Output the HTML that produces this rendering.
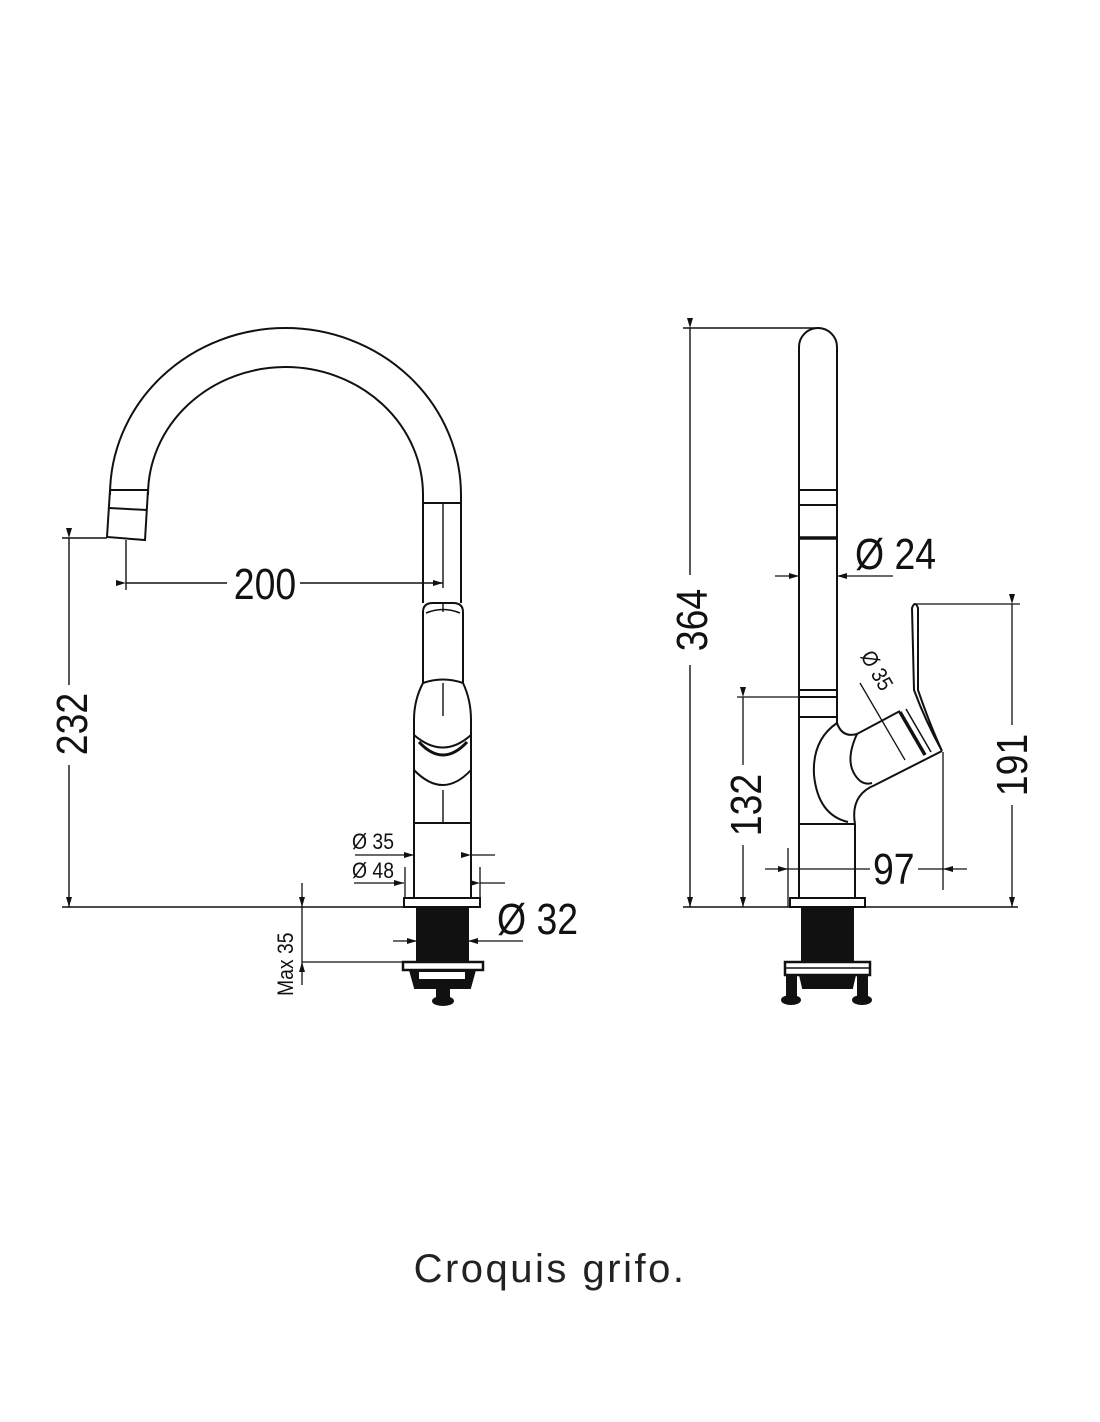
<!DOCTYPE html>
<html><head><meta charset="utf-8"><style>
html,body{margin:0;padding:0;background:#fff;}
svg{display:block;}
text{font-family:"Liberation Sans Narrow","Liberation Sans",sans-serif;fill:#111;}
</style></head><body>
<svg width="1100" height="1422" viewBox="0 0 1100 1422" xmlns="http://www.w3.org/2000/svg">
<defs>
<marker id="a" markerWidth="10" markerHeight="6" refX="10" refY="3" orient="auto" markerUnits="userSpaceOnUse"><path d="M0,0 L10,3 L0,6 z" fill="#111"/></marker>
</defs>
<g stroke="#111" stroke-width="2" fill="none">
<!-- LEFT FAUCET -->
<path d="M110,490 L110,495 A175.5,167 0 0 1 461,495 L461,503"/>
<path d="M148,490 L148,495 A137.5,128 0 0 1 423,495 L423,503"/>
<line x1="423" y1="503" x2="461" y2="503"/>
<line x1="423" y1="503" x2="423" y2="603"/>
<line x1="461" y1="503" x2="461" y2="603"/>
<line x1="443" y1="503" x2="443" y2="588" stroke-width="1.4"/>
<path d="M110,490 L107,537 L145,540 L148,490 Z"/>
<line x1="109" y1="508" x2="147" y2="510"/>
<path d="M423,683 L423,612 Q423,603 433,603 L453,603 Q463,603 463,612 L463,683"/>
<path d="M426,613 Q443,606 460,613" stroke-width="1.5"/>
<line x1="443" y1="604" x2="443" y2="612" stroke-width="1.4"/>
<path d="M414,898 L414,720 Q414,700 423,683 Q443,676 463,683 Q471,700 471,720 L471,898"/>
<path d="M414,735 Q443,760 471,735" stroke-width="2"/>
<path d="M419,742 Q443,768 467,742" stroke-width="3"/>
<path d="M414,770 Q443,800 471,770" stroke-width="2"/>
<line x1="443" y1="683" x2="443" y2="716" stroke-width="1.4"/>
<line x1="443" y1="790" x2="443" y2="823" stroke-width="1.4"/>
<line x1="414" y1="823" x2="471" y2="823"/>
<rect x="404" y="898" width="76" height="9"/>
<rect x="417" y="907" width="51" height="55" fill="#111"/>
<rect x="403" y="962" width="80" height="8" stroke-width="2.5"/>
<path d="M410,970 L475,970 L470,988 L415,988 Z" fill="#111"/>
<rect x="419" y="972" width="46" height="7" fill="#fff" stroke="none"/>
<rect x="437" y="988" width="12" height="12" fill="#111"/>
<ellipse cx="443" cy="1001" rx="10" ry="4" fill="#111"/>

<line x1="62" y1="538" x2="107" y2="538" stroke-width="1.4"/>
<line x1="69" y1="538" x2="69" y2="685" stroke-width="1.4" marker-start="url(#a)"/>
<line x1="69" y1="765" x2="69" y2="907" stroke-width="1.4" marker-end="url(#a)"/>
<line x1="62" y1="907" x2="404" y2="907" stroke-width="1.4"/>
<line x1="126" y1="540" x2="126" y2="590" stroke-width="1.4"/>
<line x1="126" y1="583" x2="227" y2="583" stroke-width="1.4" marker-start="url(#a)"/>
<line x1="300" y1="583" x2="443" y2="583" stroke-width="1.4" marker-end="url(#a)"/>
<line x1="355" y1="855" x2="414" y2="855" stroke-width="1.3" marker-end="url(#a)"/>
<line x1="471" y1="855" x2="495" y2="855" stroke-width="1.3" marker-start="url(#a)"/>
<line x1="354" y1="883" x2="404" y2="883" stroke-width="1.3" marker-end="url(#a)"/>
<line x1="480" y1="883" x2="505" y2="883" stroke-width="1.3" marker-start="url(#a)"/>
<line x1="405" y1="867" x2="405" y2="898" stroke-width="1.3"/>
<line x1="480" y1="867" x2="480" y2="898" stroke-width="1.3"/>
<line x1="393" y1="941" x2="417" y2="941" stroke-width="1.3" marker-end="url(#a)"/>
<line x1="523" y1="941" x2="468" y2="941" stroke-width="1.3" marker-end="url(#a)"/>
<line x1="302" y1="883" x2="302" y2="907" stroke-width="1.3" marker-end="url(#a)"/>
<line x1="302" y1="907" x2="302" y2="962" stroke-width="1.3"/>
<line x1="302" y1="985" x2="302" y2="962" stroke-width="1.3" marker-end="url(#a)"/>
<line x1="302" y1="962" x2="430" y2="962" stroke-width="1.3"/>

<!-- RIGHT FAUCET -->
<path d="M799,723 L799,347 A19,19 0 0 1 837,347 L837,723"/>
<line x1="799" y1="490" x2="837" y2="490"/>
<line x1="799" y1="505" x2="837" y2="505"/>
<line x1="799" y1="538" x2="837" y2="538" stroke-width="3.5"/>
<line x1="799" y1="690" x2="837" y2="690"/>
<line x1="799" y1="697" x2="837" y2="697"/>
<line x1="799" y1="717" x2="837" y2="717"/>
<line x1="799" y1="723" x2="799" y2="898"/>
<line x1="799" y1="824" x2="855" y2="824"/>
<line x1="855" y1="824" x2="855" y2="898"/>
<path d="M837,723 Q812,740 814,775 Q818,815 848,822"/>
<path d="M837,723 Q842,738 857,734 L900,711"/>
<path d="M857,734 Q845,760 855,775 Q862,786 872,783"/>
<path d="M855,824 Q850,795 875,785 L942,751"/>
<path d="M942,751 Q925,720 914,690 L912,608 Q915,600 918,608 L918,690 Q930,725 942,751"/>
<line x1="900" y1="712" x2="925" y2="755" stroke-width="3.5"/>
<line x1="906" y1="709" x2="931" y2="752" stroke-width="1.5"/>
<rect x="790" y="898" width="75" height="9"/>
<rect x="802" y="907" width="51" height="55" fill="#111"/>
<rect x="785" y="962" width="85" height="13" stroke-width="2.5"/>
<line x1="785" y1="968" x2="870" y2="968" stroke-width="1.5"/>
<path d="M800,975 L855,975 L852,988 L803,988 Z" fill="#111"/>
<rect x="787" y="975" width="9" height="24" fill="#111"/>
<rect x="858" y="975" width="9" height="24" fill="#111"/>
<ellipse cx="791" cy="1000" rx="9" ry="4" fill="#111"/>
<ellipse cx="862" cy="1000" rx="9" ry="4" fill="#111"/>

<line x1="683" y1="328" x2="820" y2="328" stroke-width="1.4"/>
<line x1="690" y1="328" x2="690" y2="575" stroke-width="1.4" marker-start="url(#a)"/>
<line x1="690" y1="665" x2="690" y2="907" stroke-width="1.4" marker-end="url(#a)"/>
<line x1="683" y1="907" x2="1018" y2="907" stroke-width="1.4"/>
<line x1="775" y1="576" x2="799" y2="576" stroke-width="1.3" marker-end="url(#a)"/>
<line x1="893" y1="576" x2="837" y2="576" stroke-width="1.3" marker-end="url(#a)"/>
<line x1="737" y1="697" x2="800" y2="697" stroke-width="1.3"/>
<line x1="743" y1="697" x2="743" y2="765" stroke-width="1.3" marker-start="url(#a)"/>
<line x1="743" y1="845" x2="743" y2="907" stroke-width="1.3" marker-end="url(#a)"/>
<line x1="915" y1="604" x2="1020" y2="604" stroke-width="1.3"/>
<line x1="1012" y1="604" x2="1012" y2="725" stroke-width="1.3" marker-start="url(#a)"/>
<line x1="1012" y1="805" x2="1012" y2="907" stroke-width="1.3" marker-end="url(#a)"/>
<line x1="788" y1="848" x2="788" y2="907" stroke-width="1.3"/>
<line x1="943" y1="752" x2="943" y2="890" stroke-width="1.3"/>
<line x1="765" y1="869" x2="788" y2="869" stroke-width="1.3" marker-end="url(#a)"/>
<line x1="788" y1="869" x2="870" y2="869" stroke-width="1.3"/>
<line x1="918" y1="869" x2="943" y2="869" stroke-width="1.3"/>
<line x1="967" y1="869" x2="943" y2="869" stroke-width="1.3" marker-end="url(#a)"/>
<line x1="860" y1="683" x2="905" y2="760" stroke-width="1.3"/>
</g>
<g font-size="44">
<text transform="translate(265 599) scale(0.85 1)" text-anchor="middle">200</text>
<text transform="translate(87 724) rotate(-90) scale(0.85 1)" text-anchor="middle">232</text>
<text transform="translate(707 620) rotate(-90) scale(0.85 1)" text-anchor="middle">364</text>
<text transform="translate(761 805) rotate(-90) scale(0.85 1)" text-anchor="middle">132</text>
<text transform="translate(1027 765) rotate(-90) scale(0.85 1)" text-anchor="middle">191</text>
<text transform="translate(873 884) scale(0.85 1)">97</text>
<text transform="translate(855 569) scale(0.85 1)">Ø 24</text>
<text transform="translate(497 934) scale(0.85 1)">Ø 32</text>
</g>
<g font-size="22">
<text transform="translate(352 849) scale(0.88 1)">Ø 35</text>
<text transform="translate(352 878) scale(0.88 1)">Ø 48</text>
<text transform="translate(293 996) rotate(-90) scale(0.88 1)">Max 35</text>
<text transform="translate(860 656) rotate(60) scale(0.88 1)">Ø 35</text>
</g>
<text x="550" y="1282" text-anchor="middle" font-size="40" letter-spacing="2.5" style="font-family:'Liberation Sans',sans-serif;fill:#222">Croquis grifo.</text>
</svg>
</body></html>
